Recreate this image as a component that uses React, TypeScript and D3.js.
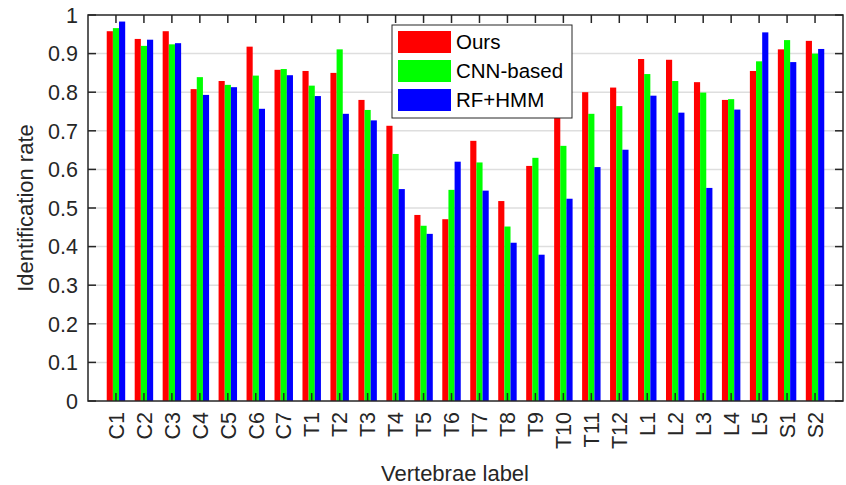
import { useMemo } from "react";
import * as d3 from "d3";

const WIDTH = 846;
const HEIGHT = 485;
const MARGIN = { top: 15, right: 3, bottom: 84, left: 88 };

const labels = [
  "C1", "C2", "C3", "C4", "C5", "C6", "C7",
  "T1", "T2", "T3", "T4", "T5", "T6", "T7", "T8", "T9", "T10", "T11", "T12",
  "L1", "L2", "L3", "L4", "L5", "S1", "S2",
];

const ours = [
  0.958, 0.938, 0.958, 0.808, 0.829, 0.918, 0.858,
  0.855, 0.850, 0.780, 0.713, 0.482, 0.471, 0.674, 0.518, 0.609, 0.735, 0.800, 0.812,
  0.886, 0.884, 0.826, 0.780, 0.855, 0.911, 0.933,
];

const cnnBased = [
  0.966, 0.920, 0.924, 0.839, 0.819, 0.843, 0.860,
  0.817, 0.911, 0.754, 0.640, 0.454, 0.547, 0.618, 0.452, 0.630, 0.661, 0.744, 0.764,
  0.847, 0.829, 0.799, 0.782, 0.880, 0.935, 0.900,
];

const rfHmm = [
  0.983, 0.936, 0.927, 0.793, 0.813, 0.757, 0.844,
  0.790, 0.744, 0.727, 0.549, 0.433, 0.620, 0.545, 0.410, 0.379, 0.524, 0.606, 0.651,
  0.791, 0.747, 0.552, 0.755, 0.955, 0.878, 0.912,
];

const seriesNames = ["Ours", "CNN-based", "RF+HMM"];
const seriesColors = ["#ff0000", "#00ff00", "#0000ff"];
const yTicks = [0, 0.1, 0.2, 0.3, 0.4, 0.5, 0.6, 0.7, 0.8, 0.9, 1];

const AXIS = "#262626";
const FONT = "'Liberation Sans', Arial, Helvetica, sans-serif";

export default function App() {
  const series = [ours, cnnBased, rfHmm];

  const x = useMemo(
    () =>
      d3
        .scalePoint<string>()
        .domain(labels)
        .range([MARGIN.left, WIDTH - MARGIN.right])
        .padding(1),
    []
  );

  const y = useMemo(
    () =>
      d3
        .scaleLinear()
        .domain([0, 1])
        .range([HEIGHT - MARGIN.bottom, MARGIN.top]),
    []
  );

  const step = x.step();
  const barW = step * 0.22;
  const left = MARGIN.left;
  const right = WIDTH - MARGIN.right;
  const top = MARGIN.top;
  const bottom = HEIGHT - MARGIN.bottom;
  const tick = 8;

  // legend box
  const lg = { x: 392, y: 25, w: 180, h: 93 };

  return (
    <svg
      width={WIDTH}
      height={HEIGHT}
      style={{ position: "absolute", left: 0, top: 0, background: "#fff" }}
      fontFamily={FONT}
    >
      {/* grid */}
      {yTicks.slice(1, -1).map((t) => (
        <line key={t} x1={left} x2={right} y1={y(t)} y2={y(t)} stroke="#dedede" strokeWidth={1.5} />
      ))}

      {/* bars */}
      {series.map((vals, s) =>
        vals.map((v, i) => (
          <rect
            key={`${s}-${i}`}
            x={(x(labels[i]) ?? 0) + (s - 1.5) * barW}
            y={y(v)}
            width={barW}
            height={y(0) - y(v)}
            fill={seriesColors[s]}
          />
        ))
      )}

      {/* axes box */}
      <rect x={left} y={top} width={right - left} height={bottom - top} fill="none" stroke={AXIS} strokeWidth={1.5} />

      {/* y ticks */}
      {yTicks.map((t) => (
        <g key={t}>
          <line x1={left} x2={left + tick} y1={y(t)} y2={y(t)} stroke={AXIS} strokeWidth={1.5} />
          <line x1={right} x2={right - tick} y1={y(t)} y2={y(t)} stroke={AXIS} strokeWidth={1.5} />
          <text x={left - 10} y={y(t)} dy="0.36em" textAnchor="end" fontSize={21.5} fill={AXIS}>
            {t}
          </text>
        </g>
      ))}

      {/* x ticks */}
      {labels.map((l) => {
        const cx = x(l) ?? 0;
        return (
          <g key={l}>
            <line x1={cx} x2={cx} y1={top} y2={top + tick} stroke={AXIS} strokeWidth={1.5} />
            <line x1={cx} x2={cx} y1={bottom} y2={bottom - tick} stroke={AXIS} strokeWidth={1.5} />
            <text
              transform={`translate(${cx},${bottom + 11}) rotate(-90)`}
              dy="0.36em"
              textAnchor="end"
              fontSize={21.5}
              fill={AXIS}
            >
              {l}
            </text>
          </g>
        );
      })}

      {/* axis titles */}
      <text x={455} y={481} textAnchor="middle" fontSize={22} fill={AXIS}>
        Vertebrae label
      </text>
      <text transform={`translate(33,${(top + bottom) / 2}) rotate(-90)`} textAnchor="middle" fontSize={22} fill={AXIS}>
        Identification rate
      </text>

      {/* legend */}
      <rect x={lg.x} y={lg.y} width={lg.w} height={lg.h} fill="#fff" stroke="#262626" strokeWidth={1} />
      {seriesNames.map((name, s) => (
        <g key={name}>
          <rect x={lg.x + 6} y={lg.y + 6 + s * 29} width={53} height={22} fill={seriesColors[s]} />
          <text x={lg.x + 64} y={lg.y + 17 + s * 29} dy="0.36em" fontSize={20.5} fill="#000">
            {name}
          </text>
        </g>
      ))}
    </svg>
  );
}
